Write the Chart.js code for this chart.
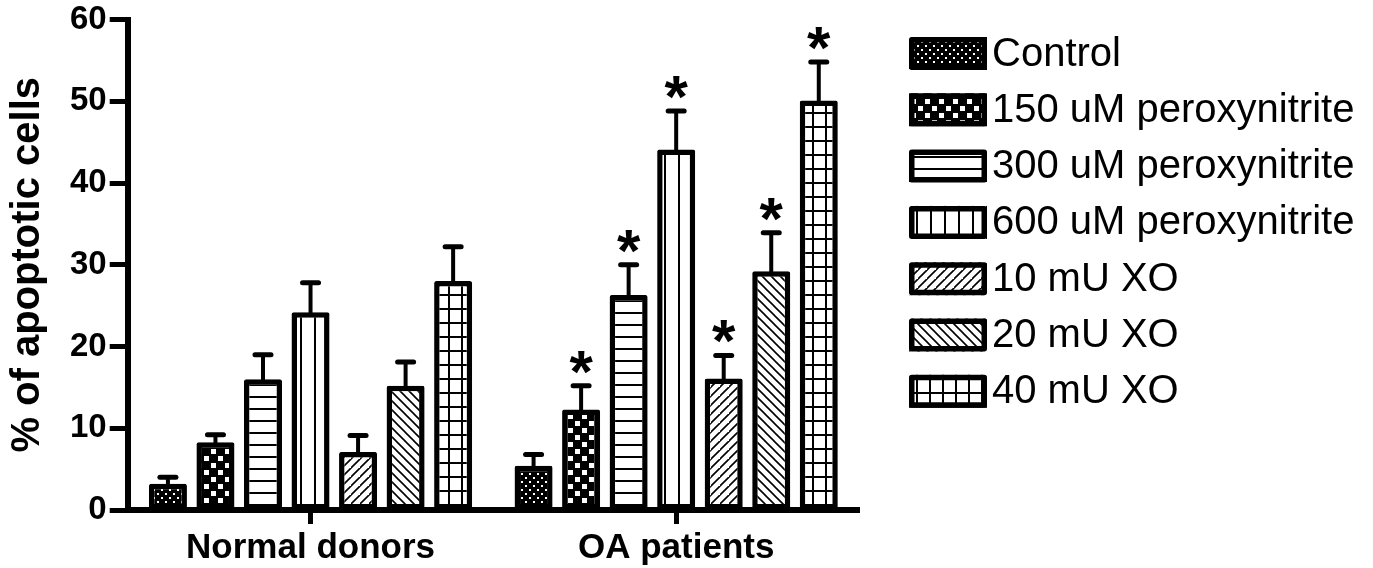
<!DOCTYPE html>
<html>
<head>
<meta charset="utf-8">
<script src="https://cdn.jsdelivr.net/npm/chart.js@4/dist/chart.umd.min.js"></script>
<style>
  html, body { margin: 0; padding: 0; background: #ffffff; }
  #wrap { width: 1373px; height: 568px; position: relative; }
</style>
</head>
<body>
<div id="wrap"><canvas id="chart"></canvas></div>
<script>
// Groups on the x axis
const categories = ['Normal donors', 'OA patients'];

// Treatments (one bar series each)
const seriesNames = [
  'Control',
  '150 uM peroxynitrite',
  '300 uM peroxynitrite',
  '600 uM peroxynitrite',
  '10 mU XO',
  '20 mU XO',
  '40 mU XO'
];

// Mean % of apoptotic cells per group
const meanControl = [3.2, 5.4];
const mean150uM   = [8.3, 12.3];
const mean300uM   = [16.0, 26.3];
const mean600uM   = [24.2, 44.1];
const mean10mU    = [7.1, 16.1];
const mean20mU    = [15.2, 29.2];
const mean40mU    = [28.0, 50.1];

// Error (upper whisker) per group
const errControl = [0.8, 1.4];
const err150uM   = [0.9, 2.9];
const err300uM   = [3.0, 3.7];
const err600uM   = [3.6, 4.7];
const err10mU    = [2.0, 2.8];
const err20mU    = [2.9, 4.7];
const err40mU    = [4.2, 4.7];

// Significance marks (*) per group
const sigControl = [false, false];
const sig150uM   = [false, true];
const sig300uM   = [false, true];
const sig600uM   = [false, true];
const sig10mU    = [false, true];
const sig20mU    = [false, true];
const sig40mU    = [false, true];

// Y axis range and tick spacing
const yMin = 0, yMax = 60, yStep = 10;

const means  = [meanControl, mean150uM, mean300uM, mean600uM, mean10mU, mean20mU, mean40mU];
const errors = [errControl, err150uM, err300uM, err600uM, err10mU, err20mU, err40mU];
const sigs   = [sigControl, sig150uM, sig300uM, sig600uM, sig10mU, sig20mU, sig40mU];

const FONT = '"Liberation Sans", Arial, sans-serif';

// ---- hatch patterns (black on white) ----
function makePattern(w, h, paint) {
  const c = document.createElement('canvas');
  c.width = w; c.height = h;
  const g = c.getContext('2d');
  paint(g, w, h);
  return g.createPattern(c, 'repeat');
}
const patterns = [
  // dotted: black with small white dots
  makePattern(8, 8, (g, w, h) => {
    g.fillStyle = '#000'; g.fillRect(0, 0, w, h);
    g.fillStyle = '#fff';
    g.fillRect(1, 1, 2, 2); g.fillRect(5, 5, 2, 2);
  }),
  // checker: black with white squares
  makePattern(14, 14, (g, w, h) => {
    g.fillStyle = '#000'; g.fillRect(0, 0, w, h);
    g.fillStyle = '#fff';
    g.fillRect(1, 1, 5, 5); g.fillRect(8, 8, 5, 5);
  }),
  // horizontal lines
  makePattern(12, 12, (g, w, h) => {
    g.fillStyle = '#fff'; g.fillRect(0, 0, w, h);
    g.fillStyle = '#000'; g.fillRect(0, 0, w, 2);
  }),
  // vertical lines
  makePattern(14, 14, (g, w, h) => {
    g.fillStyle = '#fff'; g.fillRect(0, 0, w, h);
    g.fillStyle = '#000'; g.fillRect(6, 0, 2, h);
  }),
  // forward diagonal
  makePattern(9, 9, (g, w, h) => {
    g.fillStyle = '#fff'; g.fillRect(0, 0, w, h);
    g.strokeStyle = '#000'; g.lineWidth = 1.6;
    g.beginPath();
    g.moveTo(-1, h + 1); g.lineTo(w + 1, -1);
    g.moveTo(-1 - w, h + 1); g.lineTo(1, -1);
    g.moveTo(w - 1, 2 * h + 1); g.lineTo(2 * w + 1, h - 1);
    g.stroke();
  }),
  // backward diagonal
  makePattern(9, 9, (g, w, h) => {
    g.fillStyle = '#fff'; g.fillRect(0, 0, w, h);
    g.strokeStyle = '#000'; g.lineWidth = 1.6;
    g.beginPath();
    g.moveTo(-1, -1); g.lineTo(w + 1, h + 1);
    g.moveTo(-1 - w, -1); g.lineTo(1, h + 1);
    g.moveTo(w - 1, -1); g.lineTo(2 * w + 1, h + 1);
    g.stroke();
  }),
  // grid
  makePattern(13, 14, (g, w, h) => {
    g.fillStyle = '#fff'; g.fillRect(0, 0, w, h);
    g.fillStyle = '#000';
    g.fillRect(0, 0, w, 2); g.fillRect(6, 0, 2, h);
  })
];

const datasets = seriesNames.map((name, i) => ({
  label: name,
  data: means[i],
  errors: errors[i],
  marks: sigs[i],
  backgroundColor: patterns[i],
  borderColor: '#000',
  borderWidth: 5.5,
  borderSkipped: false,
  borderRadius: 2,
  barPercentage: 0.8,
  categoryPercentage: 0.91
}));

// Upper error whiskers and significance asterisks
const errorBarPlugin = {
  id: 'errorBars',
  afterDatasetsDraw(chart) {
    const ctx = chart.ctx;
    const yScale = chart.scales.y;
    ctx.save();
    ctx.strokeStyle = '#000';
    ctx.fillStyle = '#000';
    chart.data.datasets.forEach((ds, di) => {
      const meta = chart.getDatasetMeta(di);
      meta.data.forEach((bar, j) => {
        const v = ds.data[j], e = ds.errors[j];
        const yTop = yScale.getPixelForValue(v + e);
        const x = bar.x;
        ctx.lineCap = 'butt';
        ctx.lineWidth = 4;
        ctx.beginPath();
        ctx.moveTo(x, bar.y + 2);
        ctx.lineTo(x, yTop);
        ctx.stroke();
        ctx.lineCap = 'round';
        ctx.lineWidth = 5;
        ctx.beginPath();
        ctx.moveTo(x - 8, yTop);
        ctx.lineTo(x + 8, yTop);
        ctx.stroke();
        if (ds.marks[j]) {
          ctx.font = 'bold 60px ' + FONT;
          ctx.textAlign = 'center';
          ctx.textBaseline = 'alphabetic';
          ctx.fillText('*', x, yTop - 30 + 36);
        }
      });
    });
    ctx.restore();
  }
};

// Legend on the right: pattern swatch + series name
const sideLegendPlugin = {
  id: 'sideLegend',
  afterDraw(chart) {
    const ctx = chart.ctx;
    const left = chart.chartArea.right + 50;
    const top = 37;
    const pitch = 56.3;
    const boxW = 78, boxH = 33;
    ctx.save();
    chart.data.datasets.forEach((ds, i) => {
      const y = top + i * pitch;
      ctx.fillStyle = ds.backgroundColor;
      ctx.fillRect(left, y, boxW, boxH);
      ctx.lineWidth = 5.5;
      ctx.strokeStyle = '#000';
      ctx.lineJoin = 'round';
      ctx.strokeRect(left + 2.75, y + 2.75, boxW - 5.5, boxH - 5.5);
      ctx.fillStyle = '#000';
      ctx.font = '40px ' + FONT;
      ctx.textAlign = 'left';
      ctx.textBaseline = 'middle';
      ctx.fillText(ds.label, left + boxW + 5, y + boxH / 2 + 1);
    });
    ctx.restore();
  }
};

new Chart(document.getElementById('chart'), {
  type: 'bar',
  data: { labels: categories, datasets },
  plugins: [errorBarPlugin, sideLegendPlugin],
  options: {
    responsive: true,
    maintainAspectRatio: false,
    animation: false,
    layout: { padding: { left: 0, top: 6, right: 514, bottom: -5 } },
    plugins: {
      legend: { display: false },
      tooltip: { enabled: false }
    },
    scales: {
      x: {
        offset: true,
        grid: {
          offset: false,
          drawOnChartArea: false,
          drawTicks: true,
          tickLength: 14,
          tickWidth: 5,
          color: '#000'
        },
        border: { display: true, width: 6, color: '#000' },
        ticks: {
          color: '#000',
          padding: 7,
          font: { family: FONT, size: 35, weight: 'bold', lineHeight: 1 }
        }
      },
      y: {
        min: yMin,
        max: yMax,
        grid: {
          drawOnChartArea: false,
          drawTicks: true,
          tickLength: 18,
          tickWidth: 5,
          color: '#000'
        },
        border: { display: true, width: 6, color: '#000' },
        ticks: {
          stepSize: yStep,
          color: '#000',
          padding: 3,
          font: { family: FONT, size: 33, weight: 'bold', lineHeight: 1 }
        },
        title: {
          display: true,
          text: '% of apoptotic cells',
          color: '#000',
          padding: { top: 4, bottom: 15 },
          font: { family: FONT, size: 40, weight: 'bold' }
        }
      }
    }
  }
});
</script>
</body>
</html>
